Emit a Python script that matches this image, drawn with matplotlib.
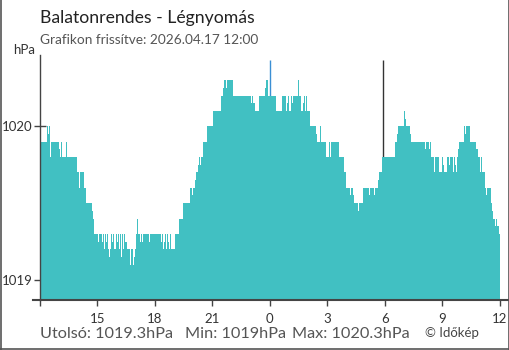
import matplotlib
matplotlib.use("Agg")
import matplotlib.pyplot as plt

# pressure steps: start time (hours after 12:00) and value (hPa)
t_start = [
    0.00, 0.37, 0.42, 0.47, 0.52, 0.57, 0.99, 1.04, 1.10, 1.15, 1.36, 1.41,
    1.93, 2.04, 2.09, 2.30, 2.40, 2.72, 2.77, 2.82,
    3.03, 3.08, 3.24, 3.29, 3.34, 3.39, 3.45, 3.50, 3.55, 3.60, 3.66, 3.71,
    3.76, 3.81, 3.86, 3.97, 4.02, 4.07, 4.13, 4.18, 4.23, 4.28, 4.33, 4.39,
    4.44, 4.54, 4.70, 4.75, 4.86, 4.91, 4.96, 5.01, 5.07, 5.12, 5.22, 5.27,
    5.33, 5.38, 5.69, 5.74, 6.32, 6.37, 6.42, 6.48, 6.53, 6.58, 6.63, 6.68,
    6.74, 6.79, 6.84, 7.05, 7.26, 7.47, 7.83, 7.94, 7.99,
    8.09, 8.15, 8.25, 8.30, 8.36, 8.41, 8.51, 8.72, 9.03, 9.45, 9.56, 9.61,
    9.71, 9.77, 10.08, 11.02, 11.07, 11.12, 11.23, 11.44, 11.75, 11.80, 11.91,
    12.32, 12.64, 12.85, 12.90, 12.95, 13.00, 13.11, 13.16, 13.21, 13.47,
    13.52, 13.63, 13.73, 13.79, 13.84, 13.89, 13.94, 14.10, 14.41, 14.46,
    14.62, 14.67, 14.93, 15.09, 15.14, 15.20, 15.61, 15.87, 15.98,
    16.19, 16.24, 16.34, 16.40, 16.61, 16.66, 16.87, 17.18, 17.23, 17.44,
    17.49, 17.65, 17.70, 17.86, 18.54, 18.64, 18.69, 19.01, 19.06, 19.11,
    19.32, 19.37, 20.10, 20.16, 20.31, 20.37, 20.42, 20.57, 20.63, 20.84,
    20.99, 21.04, 21.10, 21.25, 21.36, 21.41, 21.57, 21.62, 21.67, 21.72,
    21.78, 21.83, 21.88, 22.14, 22.19, 22.25, 22.45, 22.77, 22.87, 22.98,
    23.03, 23.08, 23.24, 23.29, 23.34, 23.55, 23.60, 23.66, 23.76, 23.81,
    23.86, 23.97,
]
pressure = [
    1019.9, 1020.0, 1019.95, 1020.0, 1019.8, 1019.9, 1019.85, 1019.8, 1019.9, 1019.8, 1019.9, 1019.8,
    1019.7, 1019.6, 1019.7, 1019.6, 1019.5, 1019.45, 1019.4, 1019.3,
    1019.25, 1019.3, 1019.25, 1019.3, 1019.2, 1019.3, 1019.25, 1019.3, 1019.2, 1019.15, 1019.2, 1019.3,
    1019.25, 1019.3, 1019.2, 1019.3, 1019.25, 1019.3, 1019.2, 1019.3, 1019.15, 1019.3, 1019.2, 1019.3,
    1019.25, 1019.2, 1019.1, 1019.2, 1019.1, 1019.15, 1019.2, 1019.3, 1019.4, 1019.3, 1019.25, 1019.3,
    1019.25, 1019.3, 1019.25, 1019.3, 1019.25, 1019.3, 1019.2, 1019.25, 1019.3, 1019.2, 1019.3, 1019.25,
    1019.2, 1019.3, 1019.2, 1019.3, 1019.4, 1019.5, 1019.6, 1019.55, 1019.6,
    1019.65, 1019.7, 1019.75, 1019.8, 1019.75, 1019.8, 1019.9, 1020.0, 1020.1, 1020.2, 1020.25, 1020.3,
    1020.25, 1020.3, 1020.2, 1020.15, 1020.2, 1020.15, 1020.1, 1020.2, 1020.25, 1020.3, 1020.2,
    1020.1, 1020.2, 1020.1, 1020.15, 1020.2, 1020.1, 1020.2, 1020.15, 1020.2, 1020.3,
    1020.2, 1020.1, 1020.15, 1020.2, 1020.1, 1020.2, 1020.1, 1020.0, 1019.95, 1019.9,
    1020.0, 1019.9, 1019.8, 1019.9, 1019.8, 1019.9, 1019.8, 1019.7, 1019.6,
    1019.55, 1019.6, 1019.55, 1019.5, 1019.45, 1019.5, 1019.6, 1019.55, 1019.6, 1019.55,
    1019.6, 1019.65, 1019.7, 1019.8, 1019.9, 1019.95, 1020.0, 1020.1, 1020.05, 1020.0,
    1019.95, 1019.9, 1019.85, 1019.9, 1019.85, 1019.9, 1019.8, 1019.7, 1019.8, 1019.7,
    1019.8, 1019.75, 1019.7, 1019.8, 1019.75, 1019.8, 1019.7, 1019.8, 1019.75, 1019.7,
    1019.8, 1019.85, 1019.9, 1020.0, 1019.95, 1020.0, 1019.9, 1019.85, 1019.8, 1019.7,
    1019.8, 1019.7, 1019.6, 1019.55, 1019.6, 1019.5, 1019.45, 1019.4, 1019.35, 1019.4,
    1019.35, 1019.3,
]
end_hour = 24.0
x_ticks = [0, 3, 6, 9, 12, 15, 18, 21, 24]
x_labels = ["", "15", "18", "21", "0", "3", "6", "9", "12"]
y_ticks = [1019, 1020]
midnight = 12.0
sunrise = 17.91

title = "Balatonrendes - Légnyomás"
updated = "Grafikon frissítve: 2026.04.17 12:00"
last_txt = "Utolsó: 1019.3hPa"
min_txt = "Min: 1019hPa"
max_txt = "Max: 1020.3hPa"

teal = "#41c0c2"
dark = "#444444"
blue = "#3b8fd4"
ymin, ymax = 1018.87, 1020.464

plt.rcParams["font.family"] = ["Lato", "DejaVu Sans"]

fig = plt.figure(figsize=(5.1, 3.5), dpi=100)
W, H = 510.0, 350.0
ax = fig.add_axes([33 / W, 50 / H, 475 / W, 245 / H])
ax.set_xlim(-7 / 19.15, -7 / 19.15 + 475 / 19.15)
ax.set_ylim(ymin, ymax)

tt = t_start + [end_hour]
pp = pressure + [pressure[-1]]
ax.fill_between(tt, pp, ymin, step="post", color=teal, lw=0, zorder=2)

ax.vlines(midnight, ymin, 1020.43, color=blue, lw=1, zorder=1)
ax.vlines(sunrise, ymin, 1020.43, color="#333333", lw=1, zorder=1)

for s in ["top", "right"]:
    ax.spines[s].set_visible(False)
ax.spines["left"].set_position(("data", 0))
ax.spines["left"].set_color(dark)
ax.spines["left"].set_linewidth(1)
ax.spines["bottom"].set_color(dark)
ax.spines["bottom"].set_linewidth(1.5)

ax.set_xticks(x_ticks)
ax.set_xticklabels(x_labels)
ax.set_yticks(y_ticks)
ax.set_yticklabels([str(v) for v in y_ticks])
ax.tick_params(axis="x", direction="out", length=4.3, width=1, color=dark,
               labelsize=9.5, labelcolor="#333333", pad=5)
ax.tick_params(axis="y", direction="inout", length=8.6, width=1, color=dark,
               labelsize=9.5, labelcolor="#333333", pad=1)
ax.xaxis.get_major_ticks()[4].tick1line.set_color(blue)

fig.text(40 / W, 1 - 18 / H, title, fontsize=12.7, color="#222222", va="center", ha="left")
fig.text(40 / W, 1 - 40 / H, updated, fontsize=9.8, color="#555555", va="center", ha="left")
fig.text(35 / W, 1 - 50 / H, "hPa", fontsize=9.5, color="#333333", va="center", ha="right")

fig.text(40 / W, 1 - 334 / H, last_txt, fontsize=11.7, color="#555555", va="center", ha="left")
fig.text(185 / W, 1 - 334 / H, min_txt, fontsize=11.7, color="#555555", va="center", ha="left")
fig.text(292 / W, 1 - 334 / H, max_txt, fontsize=11.7, color="#555555", va="center", ha="left")
fig.text(425 / W, 1 - 333 / H, "© Időkép", fontsize=9.5, color="#444444", va="center", ha="left")

# frame round the picture
frame = dict(color="#555555", lw=1.2, transform=fig.transFigure, clip_on=False)
fig.add_artist(plt.Line2D([0.001, 0.001], [0, 1], **frame))
fig.add_artist(plt.Line2D([0.999, 0.999], [0, 1], **frame))
fig.add_artist(plt.Line2D([0, 1], [0.004, 0.004], **frame))

fig.savefig("out.png", dpi=100)
